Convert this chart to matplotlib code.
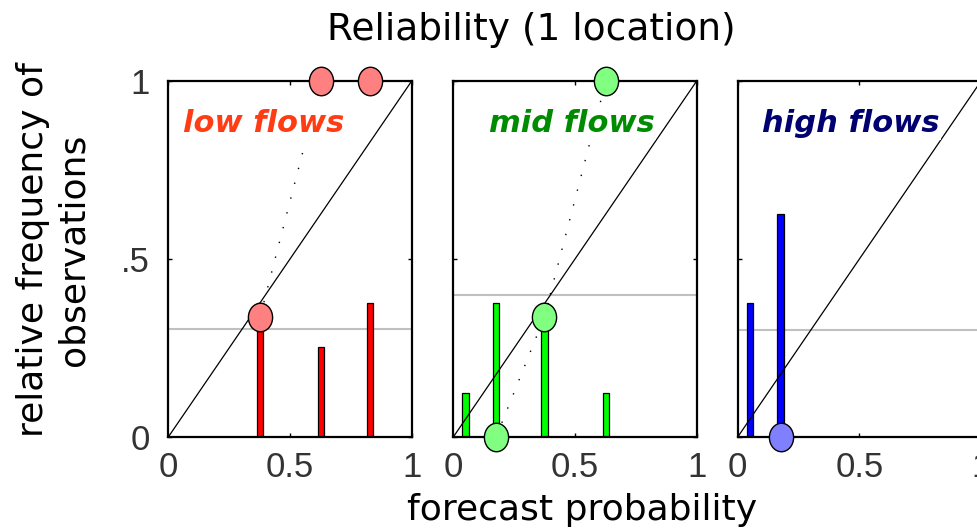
import numpy as np
import matplotlib
matplotlib.use('Agg')
import matplotlib.pyplot as plt
from matplotlib.path import Path
from matplotlib.transforms import Affine2D

# data
panel_names = ['low flows', 'mid flows', 'high flows']

low_bin_x = [0.377, 0.628, 0.828]
low_sharp = [0.376, 0.253, 0.376]
low_obs_x = [0.377, 0.628, 0.828]
low_obs_y = [0.337, 1.0, 1.0]
low_clim = 0.303

mid_bin_x = [0.051, 0.176, 0.374, 0.627]
mid_sharp = [0.125, 0.376, 0.376, 0.125]
mid_obs_x = [0.176, 0.374, 0.627]
mid_obs_y = [0.0, 0.337, 1.0]
mid_clim = 0.40

high_bin_x = [0.05, 0.176]
high_sharp = [0.376, 0.626]
high_obs_x = [0.176]
high_obs_y = [0.0]
high_clim = 0.30

tick_vals = [0, 0.5, 1]
x_tick_labels = ['0', '0.5', '1']
y_tick_labels = ['0', '.5', '1']

panels = [
    (low_bin_x, low_sharp, low_obs_x, low_obs_y, low_clim,
     '#ff0000', '#ff8080', '#ff3c14', 0.06),
    (mid_bin_x, mid_sharp, mid_obs_x, mid_obs_y, mid_clim,
     '#00ff00', '#80ff80', '#008c00', 0.145),
    (high_bin_x, high_sharp, high_obs_x, high_obs_y, high_clim,
     '#0000ff', '#8080ff', '#000070', 0.10),
]

# slightly tall ellipse marker
ell = Path.unit_circle().transformed(Affine2D().scale(0.85, 1.0))

fig = plt.figure(figsize=(9.78, 5.32), dpi=100)
lefts = [168.3, 453.3, 737.7]
W, H = 978.0, 532.0

tick_font = dict(family=['Liberation Sans', 'DejaVu Sans'], size=25)

for i, (bx, sh, ox, oy, clim, bc, mc, tc, tx) in enumerate(panels):
    ax = fig.add_axes([lefts[i] / W, (H - 437) / H, 243.4 / W, 356 / H])
    ax.set_xlim(0, 1)
    ax.set_ylim(0, 1)
    ax.axhline(clim, color='#c0c0c0', lw=1.5, zorder=1)
    ax.bar(bx, sh, width=0.027, color=bc, edgecolor='black', lw=0.9, zorder=2)
    ax.plot([0, 1], [0, 1], color='black', lw=0.9, zorder=3)
    ax.plot(ox, oy, color='black', lw=1.0, linestyle=(0, (1, 10)), zorder=3)
    ax.plot(ox, oy, linestyle='none', marker=ell, markersize=20.5,
            markerfacecolor=mc, markeredgecolor='black', markeredgewidth=1.0,
            clip_on=False, zorder=6)
    ax.text(tx, 0.88, panel_names[i], transform=ax.transAxes, color=tc,
            fontsize=22, fontweight='bold', fontstyle='italic',
            va='center', ha='left', zorder=5,
            bbox=dict(facecolor='white', edgecolor='none', pad=1))
    ax.set_xticks(tick_vals)
    ax.set_yticks(tick_vals)
    ax.set_xticklabels(x_tick_labels, fontdict=tick_font, color='#333333')
    if i == 0:
        ax.set_yticklabels(y_tick_labels, fontdict=tick_font, color='#333333')
    else:
        ax.set_yticklabels([])
    ax.tick_params(direction='in', length=3, width=1, top=True, right=True)
    ax.tick_params(axis='x', pad=10)
    ax.tick_params(axis='y', pad=13)
    for s in ax.spines.values():
        s.set_linewidth(1.6)

fig.text(531 / W, 1 - 30 / H, 'Reliability (1 location)', ha='center', va='center',
         fontsize=27)
fig.text(582 / W, 1 - 510 / H, 'forecast probability', ha='center', va='center',
         fontsize=26)
fig.text(53 / W, 1 - 250 / H, 'relative frequency of\nobservations', ha='center',
         va='center', rotation=90, fontsize=26, linespacing=1.25)

fig.savefig('out.png', dpi=100)
